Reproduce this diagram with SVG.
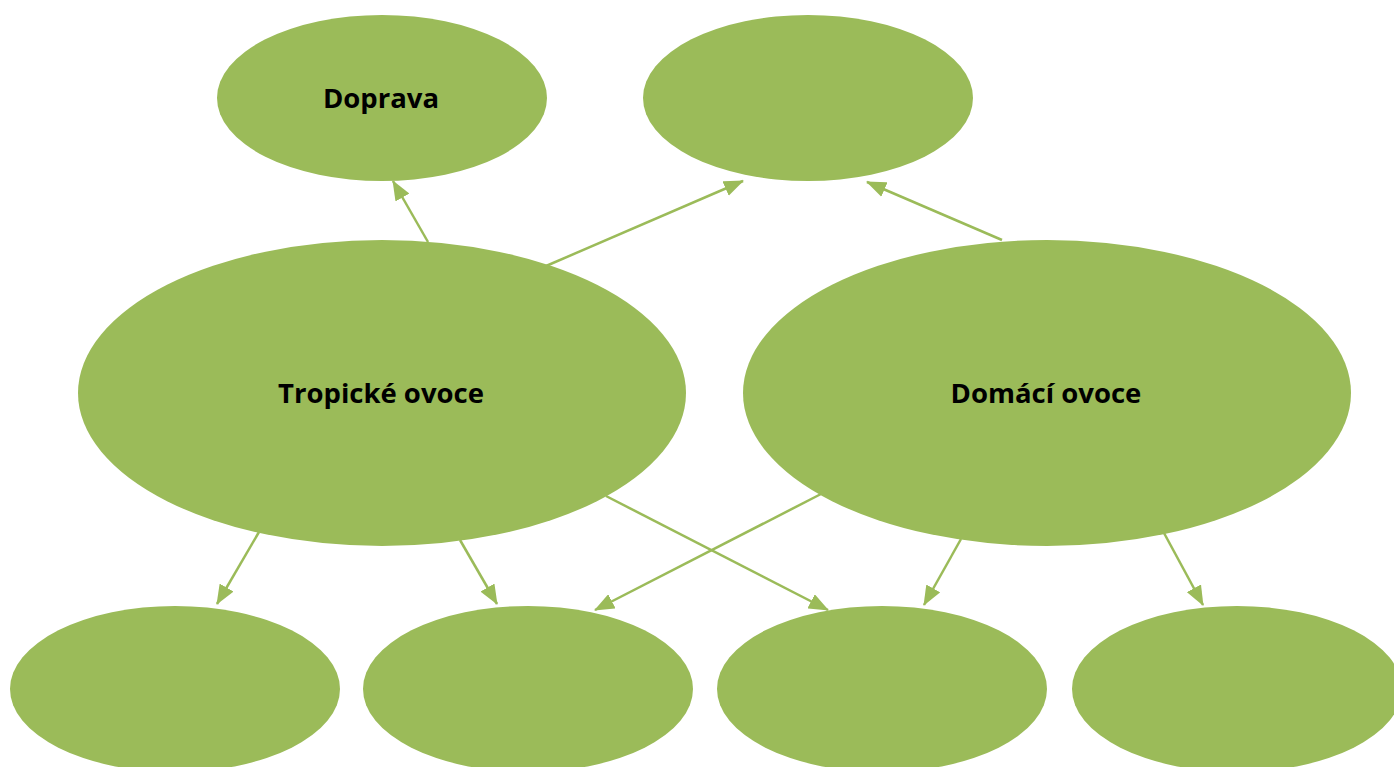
<svg xmlns="http://www.w3.org/2000/svg" width="1394" height="767" viewBox="0 0 1394 767">
<style>
.n{fill:#9BBB59}
.t{font-family:"Open Sans","Noto Sans","Liberation Sans",sans-serif;font-weight:bold;font-size:27.5px;fill:#000;text-anchor:middle;dominant-baseline:central}
.c{stroke:#9BBB59;stroke-width:2.5;fill:none;marker-end:url(#ah)}
</style>
<defs>
<marker id="ah" markerUnits="userSpaceOnUse" markerWidth="20" markerHeight="16" refX="19" refY="8" orient="auto">
<path d="M0,0 L20,8 L0,16 Z" fill="#9BBB59"/>
</marker>
</defs>
<rect width="1394" height="767" fill="#fff"/>
<g id="connectors">
<line class="c" x1="428" y1="242" x2="393" y2="181"/>
<line class="c" x1="546" y1="266" x2="743" y2="181"/>
<line class="c" x1="1002" y1="240" x2="867" y2="182"/>
<line class="c" x1="259" y1="532" x2="217" y2="604"/>
<line class="c" x1="460" y1="540" x2="497" y2="604"/>
<line class="c" x1="606" y1="496" x2="828" y2="610"/>
<line class="c" x1="821" y1="494" x2="595" y2="610"/>
<line class="c" x1="961" y1="539" x2="924" y2="605"/>
<line class="c" x1="1164" y1="533" x2="1203" y2="605"/>
</g>
<g id="doprava"><ellipse class="n" cx="382" cy="98" rx="165" ry="83"/><text class="t" x="381" y="97">Doprava</text></g>
<g id="top-right"><ellipse class="n" cx="808" cy="98" rx="165" ry="83"/></g>
<g id="tropicke"><ellipse class="n" cx="382" cy="393" rx="304" ry="153"/><text class="t" x="381" y="392">Tropické ovoce</text></g>
<g id="domaci"><ellipse class="n" cx="1047" cy="393" rx="304" ry="153"/><text class="t" x="1046" y="392">Domácí ovoce</text></g>
<g id="bottom1"><ellipse class="n" cx="175" cy="689" rx="165" ry="83"/></g>
<g id="bottom2"><ellipse class="n" cx="528" cy="689" rx="165" ry="83"/></g>
<g id="bottom3"><ellipse class="n" cx="882" cy="689" rx="165" ry="83"/></g>
<g id="bottom4"><ellipse class="n" cx="1237" cy="689" rx="165" ry="83"/></g>
</svg>
